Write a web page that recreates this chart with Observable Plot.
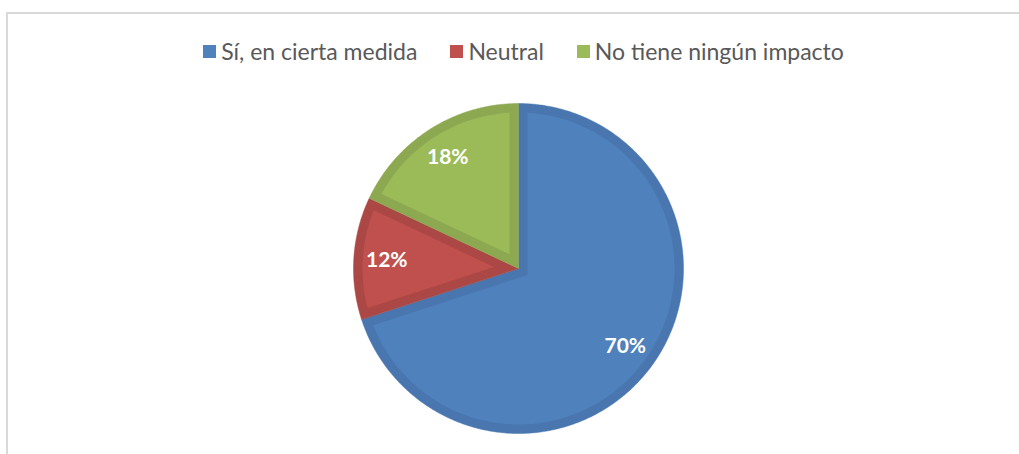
<!DOCTYPE html>
<html>
<head>
<meta charset="utf-8">
<script src="https://cdn.jsdelivr.net/npm/d3@7"></script>
<script src="https://cdn.jsdelivr.net/npm/@observablehq/plot@0.6"></script>
<style>
  html, body { margin: 0; padding: 0; background: #fff; }
  #wrap { position: relative; width: 1019px; height: 454px; overflow: hidden; font-family: Lato, "Open Sans", sans-serif; }
  #frame { position: absolute; left: 6px; top: 12px; width: 1100px; height: 500px; border: 2px solid #D9D9D9; box-sizing: border-box; }
  #chart { position: absolute; left: 0; top: 0; }
  #legend { position: absolute; top: 37px; left: 14px; width: 1019px; height: 28px; line-height: 28px; display: flex; justify-content: center; gap: 33px; font-size: 23px; color: #595959; }
  .item { display: flex; align-items: center; }
  .sw { width: 13px; height: 13px; margin-right: 5px; display: inline-block; }
</style>
</head>
<body>
<div id="wrap">
  <div id="frame"></div>
  <div id="chart"></div>
  <div id="legend"></div>
</div>
<script>
const categories = ["Sí, en cierta medida", "Neutral", "No tiene ningún impacto"];
const values = [70, 12, 18];
const labels = ["70%", "12%", "18%"];
const fills = ["#4F81BD", "#C0504D", "#9BBB59"];
const borders = ["#4976AE", "#AB4845", "#8CA951"];

const W = 1019, H = 454;
const CX = 518, CY = 268, R = 165;   // layout (pixels)
const BORDER = 9 / R;               // inset border width in radius units

const arcs = d3.pie().sort(null).value(d => d)(values);

function outerPoly(a) {
  const pts = [{x: 0, y: 0}];
  const n = Math.max(8, Math.ceil((a.endAngle - a.startAngle) / 0.01));
  for (let k = 0; k <= n; k++) {
    const t = a.startAngle + (a.endAngle - a.startAngle) * k / n;
    pts.push({x: Math.sin(t), y: Math.cos(t)});
  }
  pts.push({x: 0, y: 0});
  return pts;
}
function innerPoly(a) {
  const d = BORDER, Rin = 1 - d;
  const half = (a.endAngle - a.startAngle) / 2;
  const mid = (a.startAngle + a.endAngle) / 2;
  const cd = d / Math.sin(half);
  const corner = {x: cd * Math.sin(mid), y: cd * Math.cos(mid)};
  const delta = Math.asin(d / Rin);
  const s = a.startAngle + delta, e = a.endAngle - delta;
  const pts = [corner];
  const n = Math.max(8, Math.ceil((e - s) / 0.01));
  for (let k = 0; k <= n; k++) {
    const t = s + (e - s) * k / n;
    pts.push({x: Rin * Math.sin(t), y: Rin * Math.cos(t)});
  }
  pts.push(corner);
  return pts;
}

const marks = [];
arcs.forEach((a, i) => {
  marks.push(Plot.line(outerPoly(a), {x: "x", y: "y", fill: borders[i], stroke: borders[i], strokeWidth: 0.5, curve: "linear"}));
});
arcs.forEach((a, i) => {
  marks.push(Plot.line(innerPoly(a), {x: "x", y: "y", fill: fills[i], stroke: "none", curve: "linear"}));
});
const labelData = arcs.map((a, i) => {
  const mid = (a.startAngle + a.endAngle) / 2;
  const r = 0.8;
  return {x: r * Math.sin(mid), y: r * Math.cos(mid), label: labels[i]};
});
marks.push(Plot.text(labelData, {x: "x", y: "y", text: "label", fill: "white", fontWeight: "bold", fontSize: 21, fontFamily: "Lato, 'Open Sans', sans-serif"}));

const chart = Plot.plot({
  width: W, height: H,
  margin: 0,
  x: {domain: [-CX / R, (W - CX) / R], range: [0, W], axis: null},
  y: {domain: [-(H - CY) / R, CY / R], range: [H, 0], axis: null},
  style: {background: "transparent", overflow: "visible"},
  marks
});
document.getElementById("chart").appendChild(chart);

const legend = document.getElementById("legend");
categories.forEach((c, i) => {
  const item = document.createElement("div");
  item.className = "item";
  const sw = document.createElement("span");
  sw.className = "sw";
  sw.style.background = fills[i];
  const tx = document.createElement("span");
  tx.textContent = c;
  item.appendChild(sw);
  item.appendChild(tx);
  legend.appendChild(item);
});
</script>
</body>
</html>
